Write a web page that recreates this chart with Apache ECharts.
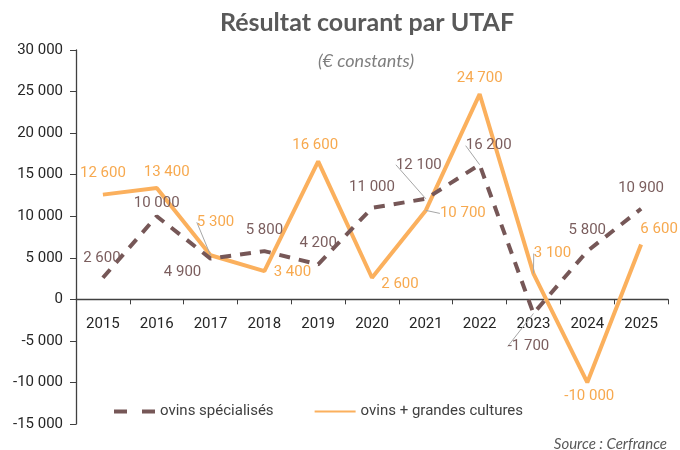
<!DOCTYPE html>
<html>
<head>
<meta charset="utf-8">
<script src="https://cdn.jsdelivr.net/npm/echarts@6/dist/echarts.min.js"></script>
<style>html,body{margin:0;padding:0;background:#fff}#c{width:680px;height:450px}</style>
</head>
<body>
<div id="c"></div>
<script>
const categories = ['2015','2016','2017','2018','2019','2020','2021','2022','2023','2024','2025'];
const ovinsSpecialises = [2600, 10000, 4900, 5800, 4200, 11000, 12100, 16200, -1700, 5800, 10900];
const ovinsGrandesCultures = [12600, 13400, 5300, 3400, 16600, 2600, 10700, 24700, 3100, -10000, 6600];
const seriesNames = ['ovins spécialisés', 'ovins + grandes cultures'];
const yTicks = {min: -15000, max: 30000, interval: 5000};

// label placement (style only)
const labelShift = [
  [[-1,-19],[0,-13],[-28,14],[0,-21],[0,-21],[0,-21],[-7,-34],[9,-19],[-5,33],[0,-21],[0,-20]],
  [[0,-21],[10,-16],[5,-33],[28,1],[-3,-16],[28,7],[37,3],[0,-16],[19,-20],[2,14],[18,-15]]
];
const leaders = [[6,7,8],[2,6,8]];

const fmt = v => {
  const s = Math.abs(v).toString().replace(/\B(?=(\d{3})+(?!\d))/g, ' ');
  return (v < 0 ? '-' : '') + s;
};

const brown = '#765757';
const brownText = '#7B5E5E';
const orange = '#FBB05D';
const orangeText = '#F7A94F';

function mkData(arr, si) {
  return arr.map((v, i) => ({
    value: v,
    labelLine: {show: leaders[si].includes(i)}
  }));
}

const gridTop = 50, gridBottom = 26, chartH = 450;
const plotH = chartH - gridTop - gridBottom;
// offset of the zero line from the bottom of the plot, derived from the axis range
const zeroOffset = plotH * (0 - yTicks.min) / (yTicks.max - yTicks.min);

const chart = echarts.init(document.getElementById('c'), null, {renderer: 'canvas'});
chart.setOption({
  animation: false,
  backgroundColor: '#fff',
  title: [
    {text: 'Résultat courant par UTAF', left: 362, top: 5, textAlign: 'center',
     textStyle: {fontFamily: 'Lato', fontWeight: 'bold', fontSize: 25, color: '#595959'}},
    {text: '(€ constants)', left: 361, top: 47, textAlign: 'center',
     textStyle: {fontFamily: 'Lato', fontStyle: 'italic', fontWeight: 'normal', fontSize: 18, color: '#7F7F7F'}},
    {text: 'Source : Cerfrance', right: 8, top: 432,
     textStyle: {fontFamily: 'Lato', fontStyle: 'italic', fontWeight: 'normal', fontSize: 15, color: '#595959'}}
  ],
  legend: {
    left: 107, top: 399, itemWidth: 41, itemHeight: 14, itemGap: 40,
    textStyle: {fontFamily: 'Roboto', fontSize: 15, color: '#404040'},
    itemStyle: {color: 'rgba(0,0,0,0)', borderColor: 'rgba(0,0,0,0)', borderWidth: 0},
    data: [
      {name: seriesNames[0], lineStyle: {type: [13, 15], width: 4, color: brown}},
      {name: seriesNames[1]}
    ]
  },
  grid: {left: 76, right: 12, top: gridTop, bottom: gridBottom, containLabel: false, outerBoundsMode: 'none'},
  xAxis: {
    type: 'category', data: categories, boundaryGap: true, position: 'bottom',
    offset: -zeroOffset,
    axisLine: {onZero: false, lineStyle: {color: '#404040', width: 1.3}},
    axisTick: {show: true, length: 5, lineStyle: {color: '#404040'}},
    axisLabel: {margin: 17, fontFamily: 'Roboto', fontSize: 15, color: '#262626'},
    splitLine: {show: false}
  },
  yAxis: {
    type: 'value', min: yTicks.min, max: yTicks.max, interval: yTicks.interval,
    axisLine: {show: true, onZero: false, lineStyle: {color: '#404040', width: 1.3}},
    axisTick: {show: true, length: 6, lineStyle: {color: '#404040'}},
    axisLabel: {margin: 13, fontFamily: 'Roboto', fontSize: 15, color: '#262626', formatter: fmt},
    splitLine: {show: false}
  },
  series: [
    {
      name: seriesNames[0], type: 'line', data: mkData(ovinsSpecialises, 0),
      symbol: 'circle', symbolSize: 0, showSymbol: true,
      itemStyle: {color: brown},
      lineStyle: {color: brown, width: 4, type: [11, 9], cap: 'butt'},
      label: {show: true, position: 'inside', formatter: p => fmt(p.value),
              fontFamily: 'Roboto', fontSize: 15, color: brownText},
      labelLine: {show: false, lineStyle: {color: '#A6A6A6', width: 1}},
      labelLayout: p => ({dx: labelShift[0][p.dataIndex][0], dy: labelShift[0][p.dataIndex][1]}),
      z: 3
    },
    {
      name: seriesNames[1], type: 'line', data: mkData(ovinsGrandesCultures, 1),
      symbol: 'circle', symbolSize: 0, showSymbol: true,
      itemStyle: {color: orange},
      lineStyle: {color: orange, width: 4},
      label: {show: true, position: 'inside', formatter: p => fmt(p.value),
              fontFamily: 'Roboto', fontSize: 15, color: orangeText},
      labelLine: {show: false, lineStyle: {color: '#A6A6A6', width: 1}},
      labelLayout: p => ({dx: labelShift[1][p.dataIndex][0], dy: labelShift[1][p.dataIndex][1]}),
      z: 2
    }
  ]
});
</script>
</body>
</html>
